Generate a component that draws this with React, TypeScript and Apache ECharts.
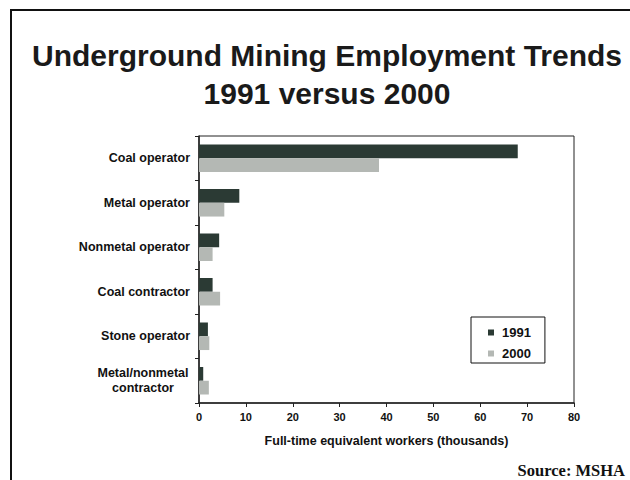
import React, { useEffect, useRef } from "react";
import * as echarts from "echarts";

const categories = [
  "Coal operator",
  "Metal operator",
  "Nonmetal operator",
  "Coal contractor",
  "Stone operator",
  "Metal/nonmetal contractor",
];
const values1991 = [68, 8.6, 4.3, 2.9, 1.9, 0.9];
const values2000 = [38.4, 5.4, 2.9, 4.5, 2.2, 2.1];
const xTicks = [0, 10, 20, 30, 40, 50, 60, 70, 80];
const seriesNames = ["1991", "2000"];

export default function App() {
  const ref = useRef<HTMLDivElement>(null);
  useEffect(() => {
    if (!ref.current) return;
    const chart = echarts.init(ref.current, null, { renderer: "svg" });
    const font = "Arial, 'Liberation Sans', sans-serif";
    chart.setOption({
      animation: false,
      backgroundColor: "#ffffff",
      title: {
        text: "Underground Mining Employment Trends\n1991 versus 2000",
        left: 322,
        textAlign: "center",
        top: 31,
        textStyle: {
          fontFamily: font,
          fontWeight: "bold",
          fontSize: 30,
          lineHeight: 38,
          color: "#1a1a1a",
        },
      },
      graphic: [
        {
          type: "rect",
          shape: { x: 11, y: 10, width: 660, height: 500 },
          style: { fill: "none", stroke: "#111", lineWidth: 2 },
          silent: true,
        },
        {
          type: "text",
          right: 5,
          top: 462,
          style: {
            text: "Source: MSHA",
            font: "bold 16.5px 'Liberation Serif', 'Times New Roman', serif",
            fill: "#111",
          },
        },
      ],
      legend: {
        orient: "vertical",
        left: 471,
        top: 317,
        data: seriesNames,
        backgroundColor: "#fff",
        borderColor: "#111",
        borderWidth: 1,
        padding: [9, 14, 3, 17],
        itemGap: 8,
        itemWidth: 6,
        itemHeight: 6,
        icon: "rect",
        textStyle: {
          fontFamily: font,
          fontWeight: "bold",
          fontSize: 13,
          color: "#111",
          padding: [0, 0, 0, 3],
        },
      },
      grid: {
        left: 199,
        top: 136,
        width: 375,
        height: 267,
        show: true,
        borderColor: "#222",
        borderWidth: 1,
        backgroundColor: "#fff",
      },
      xAxis: {
        type: "value",
        min: 0,
        max: 80,
        interval: 10,
        name: "Full-time equivalent workers (thousands)",
        nameLocation: "middle",
        nameGap: 31,
        nameTextStyle: {
          fontFamily: font,
          fontWeight: "bold",
          fontSize: 12.5,
          color: "#111",
        },
        axisLine: { show: true, lineStyle: { color: "#222", width: 1.5 } },
        axisTick: { show: true, length: 4, lineStyle: { color: "#222" } },
        splitLine: { show: false },
        axisLabel: {
          fontFamily: font,
          fontWeight: "bold",
          fontSize: 11,
          color: "#111",
          margin: 8,
          formatter: (v: number) => (xTicks.includes(v) ? String(v) : ""),
        },
      },
      yAxis: {
        type: "category",
        data: categories,
        inverse: true,
        axisLine: { show: true, lineStyle: { color: "#222", width: 1.5 } },
        axisTick: { show: true, length: 4, lineStyle: { color: "#222" } },
        axisLabel: {
          fontFamily: font,
          fontWeight: "bold",
          fontSize: 12.5,
          color: "#111",
          margin: 9,
          formatter: (v: string) =>
            v === "Metal/nonmetal contractor"
              ? "{c|Metal/nonmetal}\n{c|contractor}"
              : v,
          rich: {
            c: {
              fontFamily: font,
              fontWeight: "bold",
              fontSize: 12.5,
              color: "#111",
              width: 94,
              align: "center",
              lineHeight: 15,
            },
          },
        },
      },
      series: [
        {
          name: seriesNames[0],
          type: "bar",
          data: values1991,
          barGap: "0%",
          barCategoryGap: "38%",
          itemStyle: { color: "#2b3a34" },
        },
        {
          name: seriesNames[1],
          type: "bar",
          data: values2000,
          barGap: "0%",
          barCategoryGap: "38%",
          itemStyle: { color: "#b4b8b4" },
        },
      ],
    });
    return () => chart.dispose();
  }, []);
  return (
    <div
      ref={ref}
      style={{ position: "fixed", left: 0, top: 0, width: 630, height: 480 }}
    />
  );
}
